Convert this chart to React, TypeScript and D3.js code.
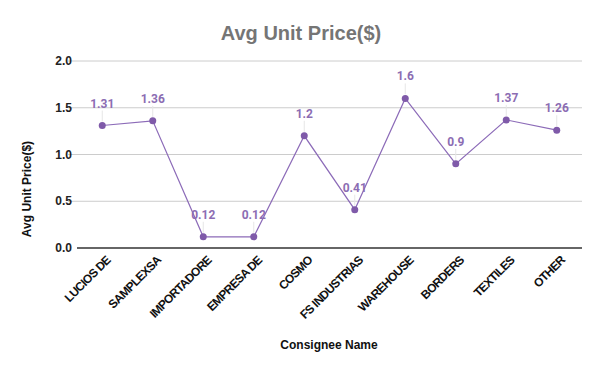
import React from 'react';
import * as d3 from 'd3';

const categories = ['LUCIOS DE', 'SAMPLEXSA', 'IMPORTADORE', 'EMPRESA DE', 'COSMO', 'FS INDUSTRIAS', 'WAREHOUSE', 'BORDERS', 'TEXTILES', 'OTHER'];
const values = [1.31, 1.36, 0.12, 0.12, 1.2, 0.41, 1.6, 0.9, 1.37, 1.26];
const yTicks = [0, 0.5, 1.0, 1.5, 2.0];

const width = 600;
const height = 371;
const margin = { top: 61, right: 18, bottom: 123, left: 77 };

const App: React.FC = () => {
  const innerW = width - margin.left - margin.right;
  const innerH = height - margin.top - margin.bottom;

  const x = d3.scalePoint<string>()
    .domain(categories)
    .range([0, innerW])
    .padding(0.5);

  const y = d3.scaleLinear()
    .domain([0, 2])
    .range([innerH, 0]);

  const line = d3.line<number>()
    .x((_, i) => x(categories[i]) || 0)
    .y(d => y(d));

  const sans = '"Liberation Sans", Arial, sans-serif';

  return (
    <svg width={width} height={height} style={{ display: 'block', position: 'absolute', left: 0, top: 0 }}>
      <rect width={width} height={height} fill="#fff" />
      <text x={301} y={40} textAnchor="middle" fontFamily={sans} fontWeight="bold" fontSize={20} fill="#757575">
        Avg Unit Price($)
      </text>
      <g transform={`translate(${margin.left},${margin.top})`}>
        {yTicks.map(t => (
          <g key={t}>
            {t !== 0 && <line x1={-9} x2={innerW} y1={y(t)} y2={y(t)} stroke="#cccccc" strokeWidth={1} />}
            <text x={-5} y={y(t)} dy="0.35em" textAnchor="end" fontFamily={sans} fontWeight="bold" fontSize={12} fill="#222">
              {t.toFixed(1)}
            </text>
          </g>
        ))}
        <line x1={0} x2={innerW} y1={y(0)} y2={y(0)} stroke="#333" strokeWidth={1.3} />
        {categories.map(c => (
          <text
            key={c}
            transform={`translate(${(x(c) || 0) + 6},${innerH + 10}) rotate(-45)`}
            textAnchor="end"
            dy="0.35em"
            fontFamily={sans}
            fontWeight="bold"
            fontSize={12}
            letterSpacing={-0.7}
            fill="#111"
          >
            {c}
          </text>
        ))}
        <path d={line(values) || ''} fill="none" stroke="#8c6bb8" strokeWidth={1.2} />
        {values.map((v, i) => {
          const cx = x(categories[i]) || 0;
          const cy = y(v);
          return (
            <g key={i}>
              <line x1={cx} x2={cx} y1={cy - 15} y2={cy - 4} stroke="#e6e6e6" strokeWidth={1} />
              <circle cx={cx} cy={cy} r={3.5} fill="#7f5aa9" />
              <text x={cx} y={cy - 18} textAnchor="middle" fontFamily="Roboto, sans-serif" fontWeight="bold" fontSize={12} fill="#8c6db3">
                {v}
              </text>
            </g>
          );
        })}
      </g>
      <text transform="translate(31,189) rotate(-90)" textAnchor="middle" fontFamily={sans} fontWeight="bold" fontSize={12} fill="#111">
        Avg Unit Price($)
      </text>
      <text x={329} y={349} textAnchor="middle" fontFamily={sans} fontWeight="bold" fontSize={12} fill="#111">
        Consignee Name
      </text>
    </svg>
  );
};

export default App;
